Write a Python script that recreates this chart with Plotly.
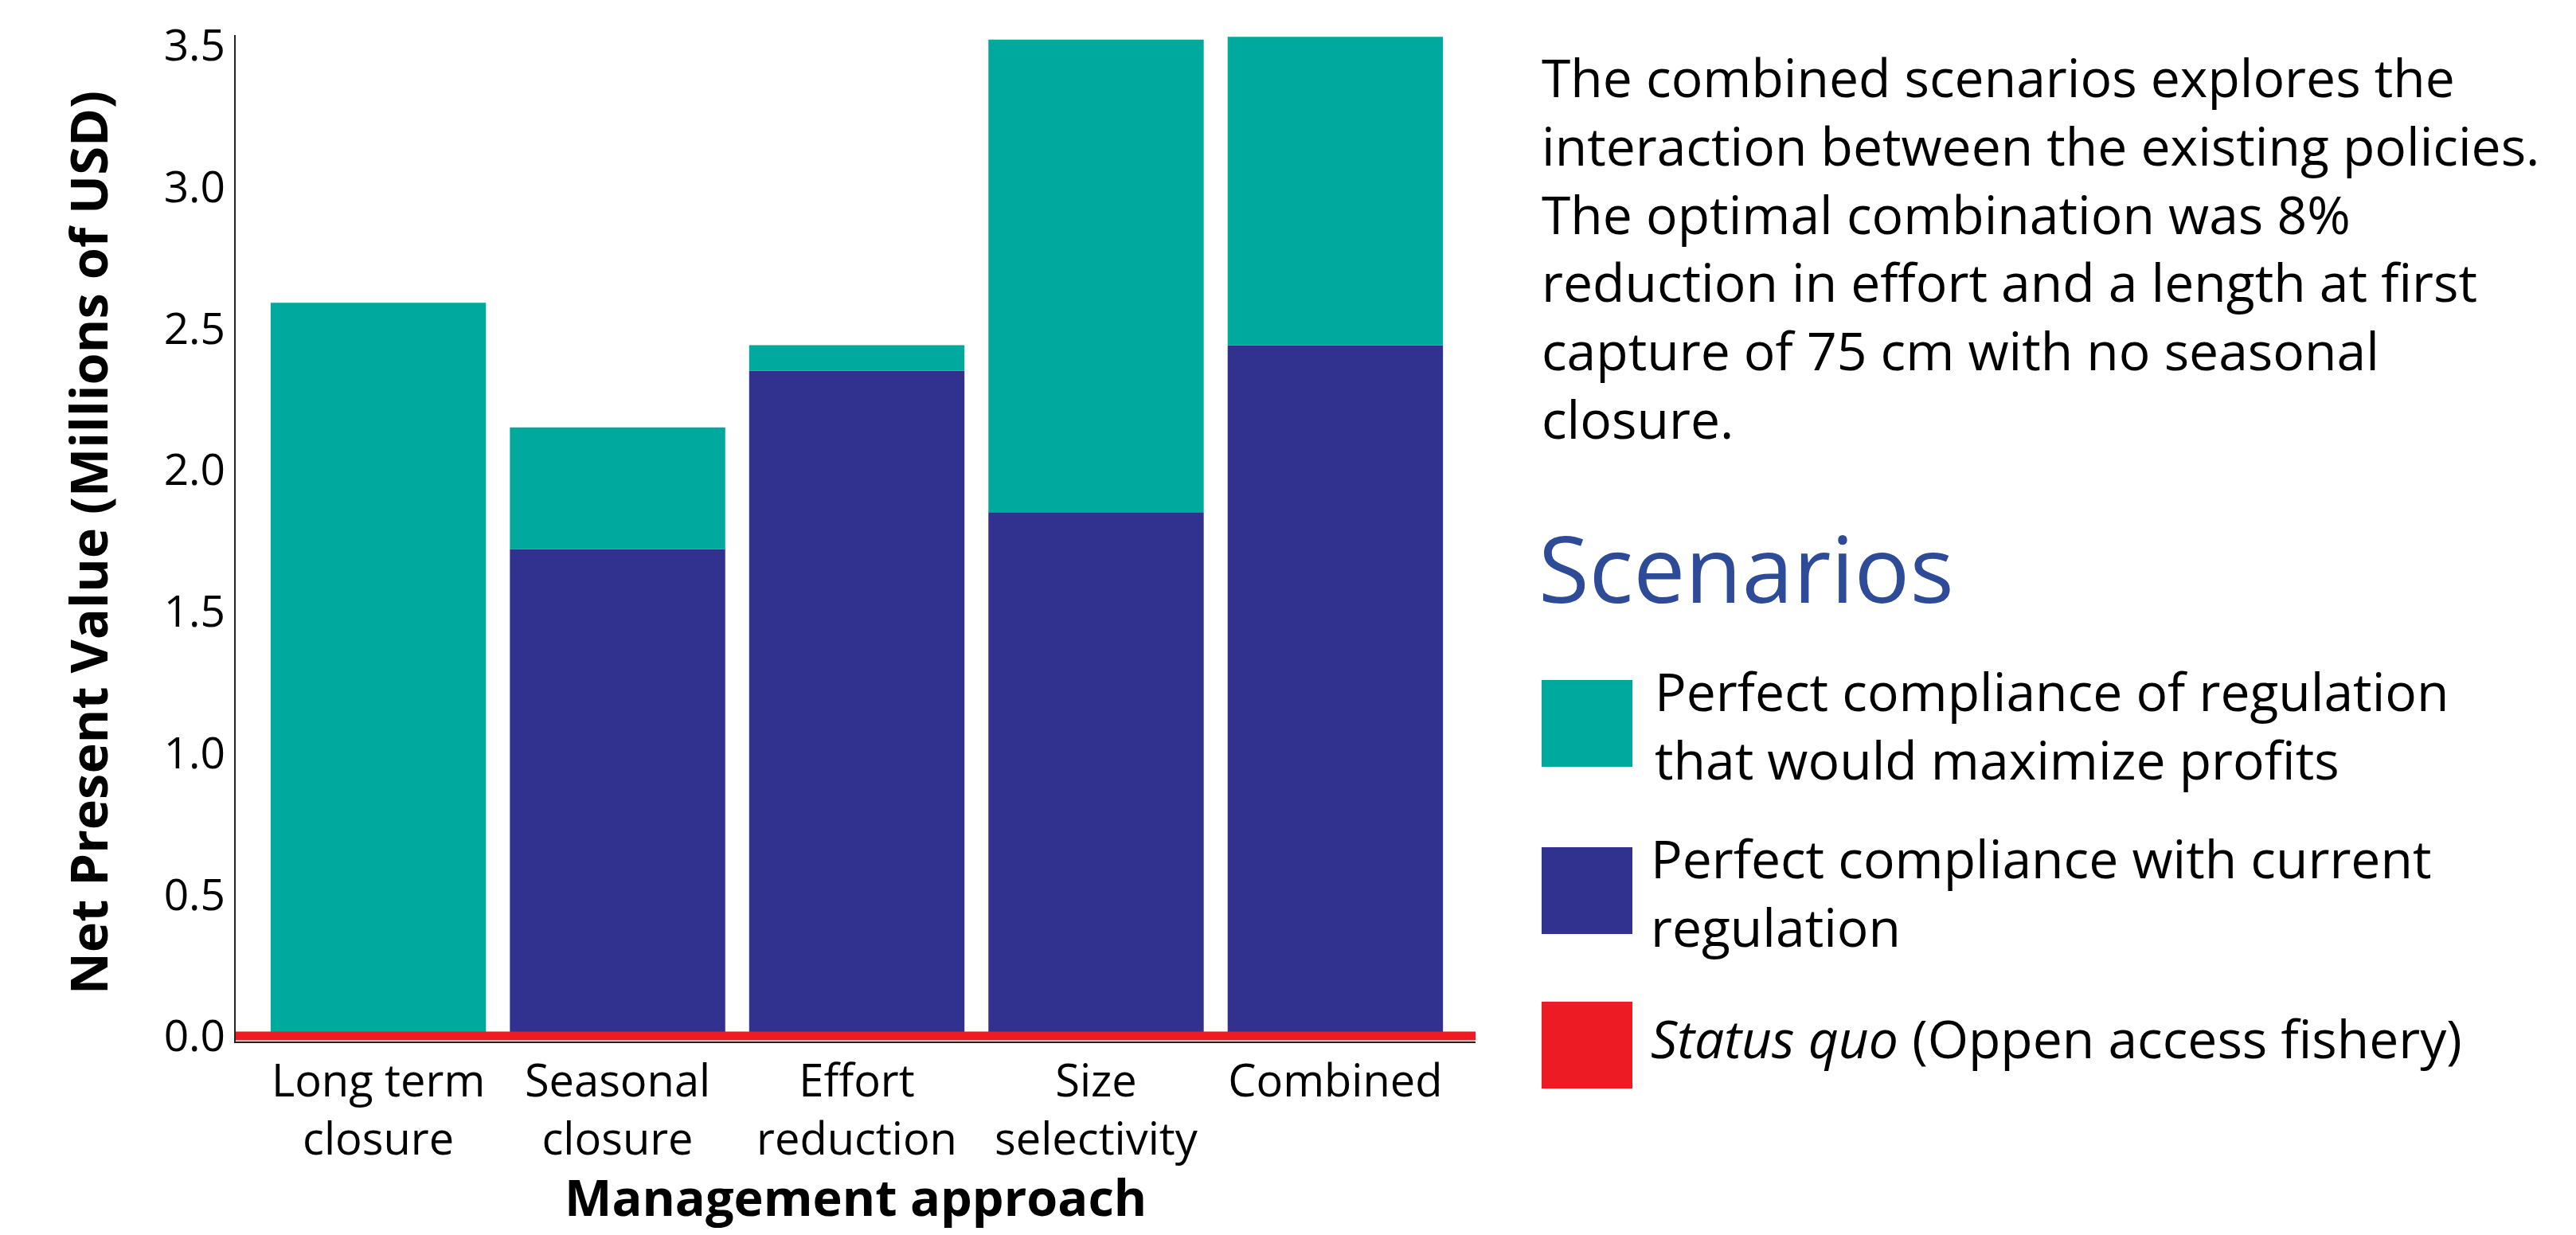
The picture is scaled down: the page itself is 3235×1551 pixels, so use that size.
import plotly.graph_objects as go

# ---------------- data ----------------
categories = ["Long term<br>closure", "Seasonal<br>closure", "Effort<br>reduction",
              "Size<br>selectivity", "Combined"]
current_regulation = [0.0, 1.72, 2.35, 1.85, 2.44]      # navy (millions USD)
optimal_regulation = [2.59, 2.15, 2.44, 3.52, 3.53]     # teal top (millions USD)
status_quo = 0.0                                        # red line
y_ticks = [0.0, 0.5, 1.0, 1.5, 2.0, 2.5, 3.0, 3.5]

paragraph_lines = [
    "The combined scenarios explores the",
    "interaction between the existing policies.",
    "The optimal combination was 8%",
    "reduction in effort and a length at first",
    "capture of 75 cm with no seasonal",
    "closure.",
]
legend_title = "Scenarios"
legend_labels = [
    ["Perfect compliance of regulation", "that would maximize profits"],
    ["Perfect compliance with current", "regulation"],
    ["<i>Status quo</i> (Oppen access fishery)"],
]

# ---------------- style ----------------
TEAL = "#00A99D"
NAVY = "#31318F"
RED = "#ED1C24"
BLUE_TXT = "#2E4B98"
FONT = "Open Sans"
TXT_SIZE = 66

W, H = 3235, 1551
L, R, T, B = 296, W - 1853, 44, H - 1308
PW, PH = W - L - R, H - T - B


def px_x(px):
    return (px - L) / PW


def px_y(py):
    return (H - B - py) / PH


fig = go.Figure()
fig.add_trace(go.Bar(x=categories, y=current_regulation, marker_color=NAVY,
                     marker_line_width=0, name="current"))
fig.add_trace(go.Bar(x=categories,
                     y=[o - c for o, c in zip(optimal_regulation, current_regulation)],
                     base=current_regulation, marker_color=TEAL,
                     marker_line_width=0, name="optimal"))

fig.add_shape(type="line", xref="paper", yref="y", x0=0, x1=1,
              y0=status_quo, y1=status_quo, line=dict(color=RED, width=11))

annotations = []
# paragraph
annotations.append(dict(text="<br>".join(paragraph_lines), xref="paper", yref="paper",
                        x=px_x(1934), y=px_y(310), xanchor="left", yanchor="middle",
                        align="left", showarrow=False,
                        font=dict(family=FONT, size=TXT_SIZE, color="black")))
# legend title
annotations.append(dict(text=legend_title, xref="paper", yref="paper",
                        x=px_x(1930), y=px_y(712), xanchor="left", yanchor="middle",
                        showarrow=False, font=dict(family=FONT, size=116, color=BLUE_TXT)))

legend_colors = [TEAL, NAVY, RED]
box_tops = [854, 1064, 1258]
text_mid = [910, 1120, 1303]
text_x = [2076, 2071, 2071]
for col, top, labels, cy, tx in zip(legend_colors, box_tops, legend_labels,
                                    text_mid, text_x):
    fig.add_shape(type="rect", xref="paper", yref="paper",
                  x0=px_x(1936), x1=px_x(2050), y0=px_y(top), y1=px_y(top + 109),
                  fillcolor=col, line_width=0)
    annotations.append(dict(text="<br>".join(labels), xref="paper", yref="paper",
                            x=px_x(tx), y=px_y(cy), xanchor="left", yanchor="middle",
                            align="left", showarrow=False,
                            font=dict(family=FONT, size=TXT_SIZE, color="black")))

# axis titles
annotations.append(dict(text="<b>Net Present Value (Millions of USD)</b>", xref="paper",
                        yref="paper", x=px_x(110), y=px_y(682), xanchor="center",
                        yanchor="middle", textangle=-90, showarrow=False,
                        font=dict(family=FONT, size=65, color="black")))
annotations.append(dict(text="<b>Management approach</b>", xref="paper",
                        yref="paper", x=0.5, y=px_y(1502), xanchor="center",
                        yanchor="middle", showarrow=False,
                        font=dict(family=FONT, size=63, color="black")))

fig.update_layout(
    width=W, height=H,
    margin=dict(l=L, r=R, t=T, b=B, pad=0),
    paper_bgcolor="white", plot_bgcolor="white",
    barmode="overlay", bargap=0.1,
    showlegend=False,
    annotations=annotations,
    font=dict(family=FONT, color="black"),
)
fig.update_xaxes(range=[-0.596, 4.586], showline=True, linecolor="#222222", linewidth=2,
                 ticks="", showgrid=False, zeroline=False,
                 tickfont=dict(family=FONT, size=56, color="black"))
fig.update_yaxes(range=[-0.0197, 3.536], showline=True, linecolor="#222222", linewidth=2,
                 ticks="", showgrid=False, zeroline=False, tickvals=y_ticks,
                 ticktext=[f"{v:.1f}" for v in y_ticks], ticklabelstandoff=0,
                 tickfont=dict(family=FONT, size=55, color="black"))

fig.write_html("out.html")
